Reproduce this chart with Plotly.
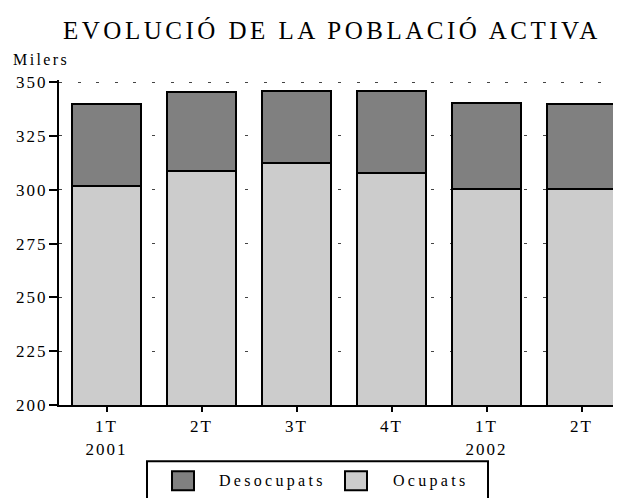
import plotly.graph_objects as go

# Quarterly active population (thousands)
categories = ["1T<br>2001", "2T", "3T", "4T", "1T<br>2002", "2T"]
ocupats = [301.8, 308.6, 312.3, 308.0, 300.4, 300.5]
desocupats = [38.0, 36.7, 33.4, 37.7, 39.8, 39.4]
y_ticks = [200, 225, 250, 275, 300, 325, 350]

W, H = 621, 498
OFF = 8  # page body margin: the figure starts 8px in from the window edge
ML, MR, MT, MB = 51, 0, 71.5, 100.5
SERIF = "Liberation Serif, Times New Roman, serif"
DARK, LIGHT = "#808080", "#cccccc"


def spaced(s, ls=3):
    return f'<span style="letter-spacing:{ls}px">{s}</span>'


def spaced_tight(s, ls=2):
    # letter spacing without the trailing gap after the last character
    return spaced(s[:-1], ls) + s[-1]


def px_x(px):
    # window pixel -> paper x
    return (px - OFF - ML) / (W - ML - MR)


def px_y(py):
    # window pixel -> paper y
    return (H - MB - (py - OFF)) / (H - MT - MB)


x_idx = list(range(len(categories)))

fig = go.Figure()
fig.add_trace(go.Bar(x=x_idx, y=ocupats, name="Ocupats",
                     marker=dict(color=LIGHT, line=dict(color="black", width=2))))
fig.add_trace(go.Bar(x=x_idx, y=desocupats, name="Desocupats",
                     marker=dict(color=DARK, line=dict(color="black", width=2))))

fig.update_layout(
    width=W, height=H,
    margin=dict(l=ML, r=MR, t=MT, b=MB),
    barmode="stack", bargap=0.284,
    plot_bgcolor="white", paper_bgcolor="white",
    showlegend=False,
    font=dict(family=SERIF, size=17, color="black"),
)
fig.update_xaxes(
    range=[-0.5, 5.5],
    tickvals=x_idx, ticktext=[spaced(c, 2) for c in categories],
    showline=True, linecolor="black", linewidth=2,
    ticks="outside", ticklen=5, tickwidth=1.5, tickcolor="black",
    showgrid=False,
)
fig.update_yaxes(
    range=[200, 351],
    tickvals=y_ticks, ticktext=[spaced_tight(str(v), 2) for v in y_ticks],
    showline=True, linecolor="black", linewidth=2,
    ticks="outside", ticklen=8, tickwidth=2, tickcolor="black",
    showgrid=True, gridcolor="#444444", gridwidth=1.2, griddash="3px,15.6px",
    zeroline=False, ticklabelstandoff=0,
)

annotations = [
    dict(text=spaced("EVOLUCIÓ DE LA POBLACIÓ ACTIVA", 3.5), x=px_x(331.5), y=px_y(30),
         xref="paper", yref="paper", xanchor="center", yanchor="middle",
         showarrow=False, font=dict(size=25)),
    dict(text=spaced("Milers", 2.4), x=px_x(11), y=px_y(59),
         xref="paper", yref="paper", xanchor="left", yanchor="middle",
         showarrow=False, font=dict(size=16)),
    dict(text=spaced("Desocupats", 3.3), x=px_x(217), y=px_y(482),
         xref="paper", yref="paper", xanchor="left", yanchor="middle",
         showarrow=False, font=dict(size=16)),
    dict(text=spaced("Ocupats", 3.3), x=px_x(391), y=px_y(482),
         xref="paper", yref="paper", xanchor="left", yanchor="middle",
         showarrow=False, font=dict(size=16)),
]

shapes = [
    dict(type="rect", xref="paper", yref="paper",
         x0=px_x(147), x1=px_x(488), y0=px_y(462), y1=px_y(530),
         line=dict(color="black", width=2), fillcolor="white"),
    dict(type="rect", xref="paper", yref="paper",
         x0=px_x(172), x1=px_x(194), y0=px_y(472), y1=px_y(491),
         line=dict(color="black", width=2), fillcolor=DARK),
    dict(type="rect", xref="paper", yref="paper",
         x0=px_x(345), x1=px_x(367), y0=px_y(472), y1=px_y(491),
         line=dict(color="black", width=2), fillcolor=LIGHT),
]

fig.update_layout(annotations=annotations, shapes=shapes)
fig.write_html("out.html")
